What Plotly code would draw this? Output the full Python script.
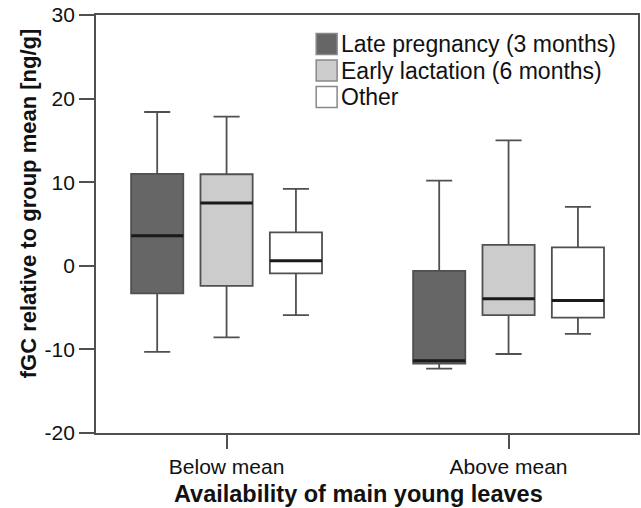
import plotly.graph_objects as go

categories = ["Below mean", "Above mean"]
series = ["Late pregnancy (3 months)", "Early lactation (6 months)", "Other"]
y_ticks = [-20, -10, 0, 10, 20, 30]
y_tick_labels = ["-20", "-10", "0", "10", "20", "30"]
x_title = "Availability of main young leaves"
y_title = "fGC relative to group mean [ng/g]"

# box statistics per series: [Below mean, Above mean]
late_low = [-10.3, -12.3]
late_q1 = [-3.3, -11.7]
late_med = [3.6, -11.35]
late_q3 = [11.0, -0.6]
late_high = [18.4, 10.2]

early_low = [-8.55, -10.55]
early_q1 = [-2.4, -5.9]
early_med = [7.5, -3.95]
early_q3 = [10.95, 2.5]
early_high = [17.85, 15.0]

other_low = [-5.9, -8.15]
other_q1 = [-0.9, -6.2]
other_med = [0.6, -4.15]
other_q3 = [4.0, 2.2]
other_high = [9.2, 7.05]

fills = ["#666666", "#cccccc", "#ffffff"]
outline = "#505050"
font_family = "Liberation Sans, Arial, sans-serif"
text_color = "#111111"

stats = [
    (late_low, late_q1, late_med, late_q3, late_high),
    (early_low, early_q1, early_med, early_q3, early_high),
    (other_low, other_q1, other_med, other_q3, other_high),
]

offset = 0.246
box_w = 0.185
group_pos = list(range(len(categories)))

fig = go.Figure()
for i, (name, st) in enumerate(zip(series, stats)):
    lo, q1, med, q3, hi = st
    xs = [g + (i - 1) * offset for g in group_pos]
    fig.add_trace(go.Box(
        x=xs, q1=q1, median=med, q3=q3, lowerfence=lo, upperfence=hi,
        width=box_w, whiskerwidth=0.5, boxpoints=False, name=name,
        fillcolor=fills[i], line=dict(color=outline, width=1.8),
        showlegend=False, hoverinfo="skip",
    ))
    mx, my = [], []
    for x, m in zip(xs, med):
        mx += [x - box_w / 2, x + box_w / 2, None]
        my += [m, m, None]
    fig.add_trace(go.Scatter(
        x=mx, y=my, mode="lines", line=dict(color="#1a1a1a", width=3),
        showlegend=False, hoverinfo="skip",
    ))

# custom legend (paper coordinates; plot area is 544 x 418 px)
PW, PH = 544.0, 418.0
sq_left, sq_size = 221.0, 21.0
row_centers = [389.0, 362.5, 336.0]  # px above the plot bottom
for i, name in enumerate(series):
    cy = row_centers[i]
    fig.add_shape(
        type="rect", xref="paper", yref="paper",
        x0=sq_left / PW, x1=(sq_left + sq_size) / PW,
        y0=(cy - sq_size / 2) / PH, y1=(cy + sq_size / 2) / PH,
        fillcolor=fills[i], line=dict(color="#888888", width=1.5),
    )
    fig.add_annotation(
        x=(sq_left + sq_size + 2) / PW, y=cy / PH, xref="paper", yref="paper",
        text=name, showarrow=False, xanchor="left", yanchor="middle",
        font=dict(size=23, family=font_family, color=text_color),
    )

# axis titles
fig.add_annotation(
    x=(359 - 96) / PW, y=(433 - 494) / PH, xref="paper", yref="paper",
    text="<b>" + x_title + "</b>", showarrow=False,
    xanchor="center", yanchor="middle",
    font=dict(size=23.5, family=font_family, color=text_color),
)
fig.add_annotation(
    x=(28 - 96) / PW, y=(433 - 203) / PH, xref="paper", yref="paper",
    text="<b>" + y_title + "</b>", showarrow=False, textangle=-90,
    xanchor="center", yanchor="middle",
    font=dict(size=22, family=font_family, color=text_color),
)

fig.update_layout(
    width=641, height=508,
    margin=dict(l=96, r=1, t=15, b=75),
    paper_bgcolor="white", plot_bgcolor="white",
    font=dict(family=font_family, color=text_color),
    showlegend=False,
)
fig.update_xaxes(
    range=[-0.463, 1.459], tickvals=group_pos, ticktext=categories,
    showline=True, mirror=True, linecolor=outline, linewidth=1.8,
    ticks="outside", ticklen=14, tickwidth=1.6, tickcolor=outline,
    showgrid=False, zeroline=False,
    tickfont=dict(size=21, family=font_family, color=text_color),
)
fig.update_yaxes(
    range=[-20, 30], tickvals=y_ticks, ticktext=y_tick_labels,
    showline=True, mirror=True, linecolor=outline, linewidth=1.8,
    ticks="outside", ticklen=15, tickwidth=1.6, tickcolor=outline,
    showgrid=False, zeroline=False,
    tickfont=dict(size=21, family=font_family, color=text_color),
)

fig.write_html("out.html")
